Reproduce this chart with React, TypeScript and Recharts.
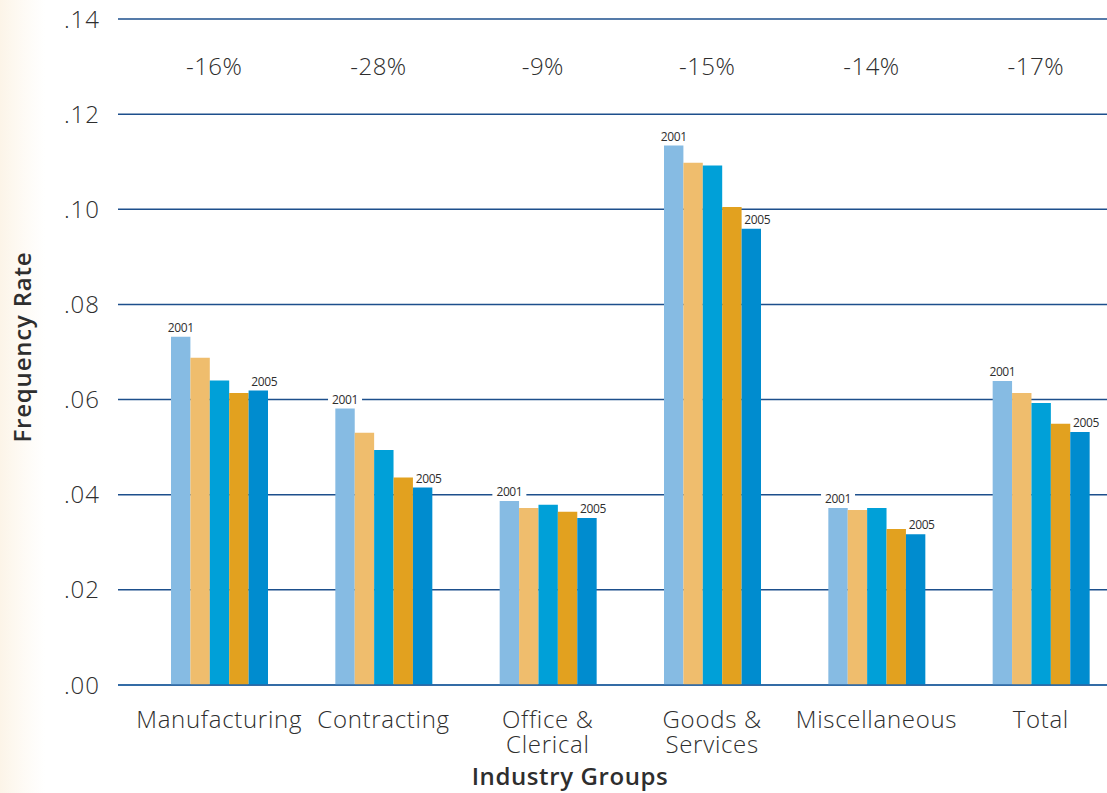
import { BarChart, Bar, XAxis, YAxis, CartesianGrid, LabelList } from "recharts";

const groups = ["Manufacturing", "Contracting", "Office & Clerical", "Goods & Services", "Miscellaneous", "Total"];
const change = ["-16%", "-28%", "-9%", "-15%", "-14%", "-17%"];
const y2001 = [0.0732, 0.0581, 0.0387, 0.1134, 0.0372, 0.0639];
const y2002 = [0.0688, 0.053, 0.0372, 0.1098, 0.0368, 0.0614];
const y2003 = [0.064, 0.0494, 0.0379, 0.1092, 0.0372, 0.0593];
const y2004 = [0.0614, 0.0436, 0.0364, 0.1005, 0.0328, 0.0549];
const y2005 = [0.0619, 0.0415, 0.0351, 0.0959, 0.0317, 0.0532];
const yTicks = [0, 0.02, 0.04, 0.06, 0.08, 0.1, 0.12, 0.14];

const BAR_COLORS = ["#86bbe3", "#efbd6d", "#00a0d8", "#e2a11f", "#008ccf"];
const GRID = "#1d4f8c";
const TEXT = "#2e2e2e";
const FONT = "'Open Sans', sans-serif";

const data = groups.map((g, i) => ({
  group: g,
  pct: change[i],
  y2001: y2001[i],
  y2002: y2002[i],
  y2003: y2003[i],
  y2004: y2004[i],
  y2005: y2005[i],
}));

function GroupTick({ x, y, payload }: any) {
  const lines = String(payload.value).split(" & ");
  const parts = lines.length > 1 ? [lines[0] + " &", lines[1]] : lines;
  return (
    <text
      x={x}
      y={y}
      textAnchor="middle"
      fill={TEXT}
      fontSize={24}
      letterSpacing={0.7}
      fontFamily={FONT}
      fontWeight={300}
    >
      {parts.map((p, i) => (
        <tspan key={i} x={x} dy={i === 0 ? 35 : 25}>
          {p}
        </tspan>
      ))}
    </text>
  );
}

function PctTick({ x, payload }: any) {
  return (
    <text
      x={x - 5}
      y={75}
      textAnchor="middle"
      fill={TEXT}
      fontSize={24}
      letterSpacing={0.5}
      fontFamily={FONT}
      fontWeight={300}
    >
      {payload.value}
    </text>
  );
}

function YearLabel(year: string, dx: number, boxed: boolean) {
  return (props: any) => {
    const { x, y, width } = props;
    const cx = x + width / 2 + dx;
    return (
      <g>
        {boxed && <rect x={cx - 17} y={y - 17} width={34} height={14} fill="#ffffff" />}
        <text x={cx} y={y - 5} textAnchor="middle" fill={TEXT} fontSize={12} fontFamily={FONT} letterSpacing={-0.4}>
          {year}
        </text>
      </g>
    );
  };
}

export default function App() {
  return (
    <div
      style={{
        position: "absolute",
        left: 0,
        top: 0,
        width: 1107,
        height: 793,
        overflow: "hidden",
        background: "linear-gradient(to right, #fcf4e8 0px, #fefbf6 25px, #ffffff 45px)",
      }}
    >
      <BarChart
        width={1130}
        height={793}
        data={data}
        margin={{ top: 18, right: 7, left: 0, bottom: 0 }}
        barGap={0}
        barSize={19.4}
      >
        <CartesianGrid vertical={false} stroke={GRID} strokeWidth={1.5} />
        <XAxis
          xAxisId="top"
          orientation="top"
          dataKey="pct"
          height={1}
          axisLine={false}
          tickLine={false}
          padding={{ left: 19, right: 0 }}
          interval={0}
          tick={<PctTick />}
        />
        <XAxis
          dataKey="group"
          height={108}
          axisLine={{ stroke: "#2a67a6", strokeWidth: 1.5 }}
          tickLine={false}
          padding={{ left: 19, right: 0 }}
          interval={0}
          tick={<GroupTick />}
          label={(props: any) => (
            <text
              x={570}
              y={785}
              textAnchor="middle"
              fill={TEXT}
              fontSize={24}
              letterSpacing={0.6}
              fontWeight={600}
              fontFamily={FONT}
            >
              Industry Groups
            </text>
          )}
        />
        <YAxis
          width={118}
          domain={[0, 0.14]}
          ticks={yTicks}
          interval={0}
          axisLine={false}
          tickLine={false}
          tickSize={0}
          tickMargin={18}
          tickFormatter={(v: number) => "." + Math.round(v * 100).toString().padStart(2, "0")}
          tick={{ fill: TEXT, fontSize: 24, letterSpacing: 1, fontFamily: FONT, fontWeight: 300 }}
          label={(props: any) => (
            <text
              x={0}
              y={0}
              transform="translate(31, 347) rotate(-90)"
              textAnchor="middle"
              fill={TEXT}
              fontSize={24}
              letterSpacing={0.8}
              fontWeight={600}
              fontFamily={FONT}
            >
              Frequency Rate
            </text>
          )}
        />
        <Bar dataKey="y2001" fill={BAR_COLORS[0]} isAnimationActive={false}>
          <LabelList dataKey="y2001" content={YearLabel("2001", 0, true)} />
        </Bar>
        <Bar dataKey="y2002" fill={BAR_COLORS[1]} isAnimationActive={false} />
        <Bar dataKey="y2003" fill={BAR_COLORS[2]} isAnimationActive={false} />
        <Bar dataKey="y2004" fill={BAR_COLORS[3]} isAnimationActive={false} />
        <Bar dataKey="y2005" fill={BAR_COLORS[4]} isAnimationActive={false}>
          <LabelList dataKey="y2005" content={YearLabel("2005", 6, false)} />
        </Bar>
      </BarChart>
    </div>
  );
}
